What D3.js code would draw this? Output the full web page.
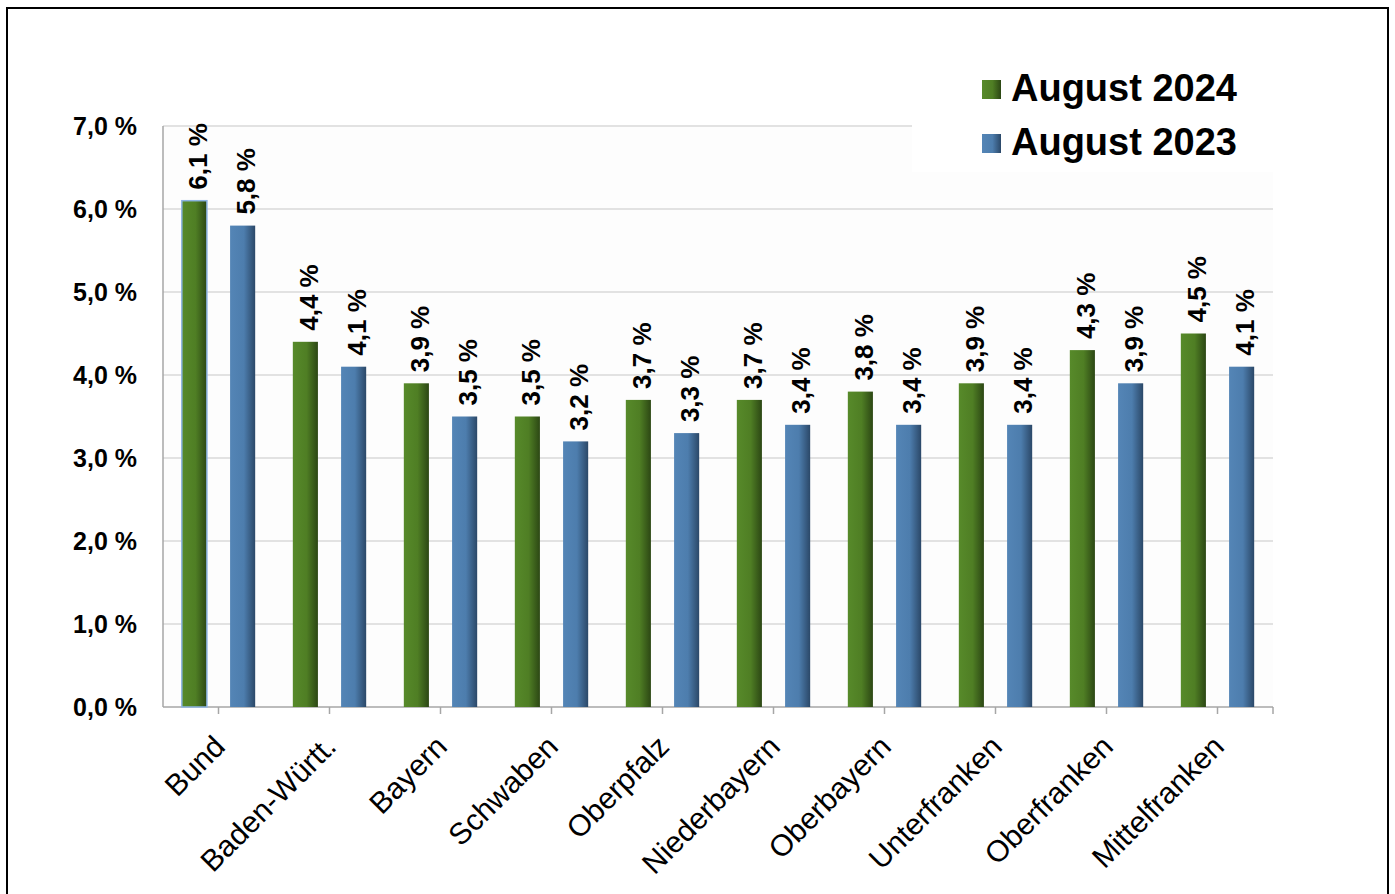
<!DOCTYPE html>
<html><head><meta charset="utf-8">
<script src="https://cdn.jsdelivr.net/npm/d3@7"></script>
<style>body{margin:0;background:#fff}svg{display:block;font-family:Arial,"Liberation Sans",sans-serif}</style>
</head><body><svg id="c" width="1395" height="894"></svg>
<script>
const categories = ["Bund","Baden-Württ.","Bayern","Schwaben","Oberpfalz","Niederbayern","Oberbayern","Unterfranken","Oberfranken","Mittelfranken"];
const seriesNames = ["August 2024","August 2023"];
const values2024 = [6.1,4.4,3.9,3.5,3.7,3.7,3.8,3.9,4.3,4.5];
const values2023 = [5.8,4.1,3.5,3.2,3.3,3.4,3.4,3.4,3.9,4.1];
const yTicks = [0,1,2,3,4,5,6,7];

const svg = d3.select("#c");
const fmt = v => d3.format(".1f")(v).replace(".", ",") + " %";

const defs = svg.append("defs");
function grad(id, c0, c1, c2){
  const g = defs.append("linearGradient").attr("id", id).attr("x1","0").attr("x2","1").attr("y1","0").attr("y2","0");
  g.append("stop").attr("offset","0%").attr("stop-color",c0);
  g.append("stop").attr("offset","55%").attr("stop-color",c1);
  g.append("stop").attr("offset","100%").attr("stop-color",c2);
}
grad("gGreen","#578a2a","#4f7e24","#2c4714");
grad("gBlue","#5485b6","#4d7dad","#2b4868");
const fills = ["url(#gGreen)","url(#gBlue)"];

// frame
svg.append("rect").attr("x",7).attr("y",8).attr("width",1381).attr("height",900)
  .attr("fill","none").attr("stroke","#000").attr("stroke-width",2);

const m = {left:163, right:1273, top:126, bottom:707};
const x0 = d3.scaleBand().domain(categories).range([m.left, m.right]).paddingInner(0).paddingOuter(0);
const x1 = d3.scaleBand().domain(seriesNames).range([0, x0.bandwidth()]).paddingInner(0.48).paddingOuter(0.39);
const y = d3.scaleLinear().domain([0,7]).range([m.bottom, m.top]);

// plot bg
svg.append("rect").attr("x",m.left).attr("y",m.top).attr("width",m.right-m.left).attr("height",m.bottom-m.top).attr("fill","#fdfdfd");

// gridlines
const legendLeft = 912;
svg.append("g").selectAll("line").data(yTicks.filter(d=>d>0)).join("line")
  .attr("x1",m.left).attr("x2",d=> d===7 ? legendLeft : m.right)
  .attr("y1",d=>y(d)).attr("y2",d=>y(d))
  .attr("stroke","#d9d9d9").attr("stroke-width",1.5);

// legend box
svg.append("rect").attr("x",legendLeft).attr("y",60).attr("width",m.right-legendLeft).attr("height",112).attr("fill","#fff");

// y axis labels
svg.append("g").selectAll("text").data(yTicks).join("text")
  .attr("x",137).attr("y",d=>y(d)).attr("dy","0.36em")
  .attr("text-anchor","end").attr("font-weight","bold").attr("font-size",25)
  .text(d=>fmt(d));

// axes lines
const ax = svg.append("g").attr("stroke","#a6a6a6").attr("stroke-width",1.5);
ax.append("line").attr("x1",m.left).attr("x2",m.left).attr("y1",m.top).attr("y2",m.bottom);
ax.append("line").attr("x1",m.left).attr("x2",m.right).attr("y1",m.bottom).attr("y2",m.bottom);
ax.selectAll("line.t").data(categories).join("line").attr("class","t")
  .attr("x1",d=>x0(d)+x0.bandwidth()/2).attr("x2",d=>x0(d)+x0.bandwidth()/2)
  .attr("y1",m.bottom).attr("y2",m.bottom+7);
ax.append("line").attr("x1",m.right).attr("x2",m.right).attr("y1",m.bottom).attr("y2",m.bottom+7);

// bars
const rows = categories.map((c,i)=>({cat:c, vals:[values2024[i], values2023[i]]}));
const gb = svg.append("g");
rows.forEach((r,i)=>{
  r.vals.forEach((v,j)=>{
    const bx = x0(r.cat) + x1(seriesNames[j]);
    gb.append("rect").attr("x",bx).attr("y",y(v)).attr("width",x1.bandwidth()).attr("height",y(0)-y(v))
      .attr("fill",fills[j])
      .attr("stroke", (i===0 && j===0) ? "#8db4e2" : "none").attr("stroke-width",1.5);
    gb.append("text")
      .attr("transform",`translate(${bx + x1.bandwidth()/2 + 3},${y(v)-11}) rotate(-90)`)
      .attr("dy","0.36em").attr("font-weight","bold").attr("font-size",26)
      .text(fmt(v));
  });
});

// x labels
svg.append("g").selectAll("text").data(categories).join("text")
  .attr("transform",d=>`translate(${x0(d)+x0.bandwidth()/2+1},${m.bottom+34}) rotate(-45)`)
  .attr("text-anchor","end").attr("font-size",30).attr("dy","0.35em")
  .text(d=>d);

// legend
const lg = svg.append("g");
seriesNames.forEach((s,i)=>{
  const ly = 101 + i*54;
  lg.append("rect").attr("x",982).attr("y",ly-21).attr("width",19).attr("height",19).attr("fill",fills[i]);
  lg.append("text").attr("x",1011).attr("y",ly).attr("font-weight","bold").attr("font-size",38).text(s);
});
</script></body></html>
